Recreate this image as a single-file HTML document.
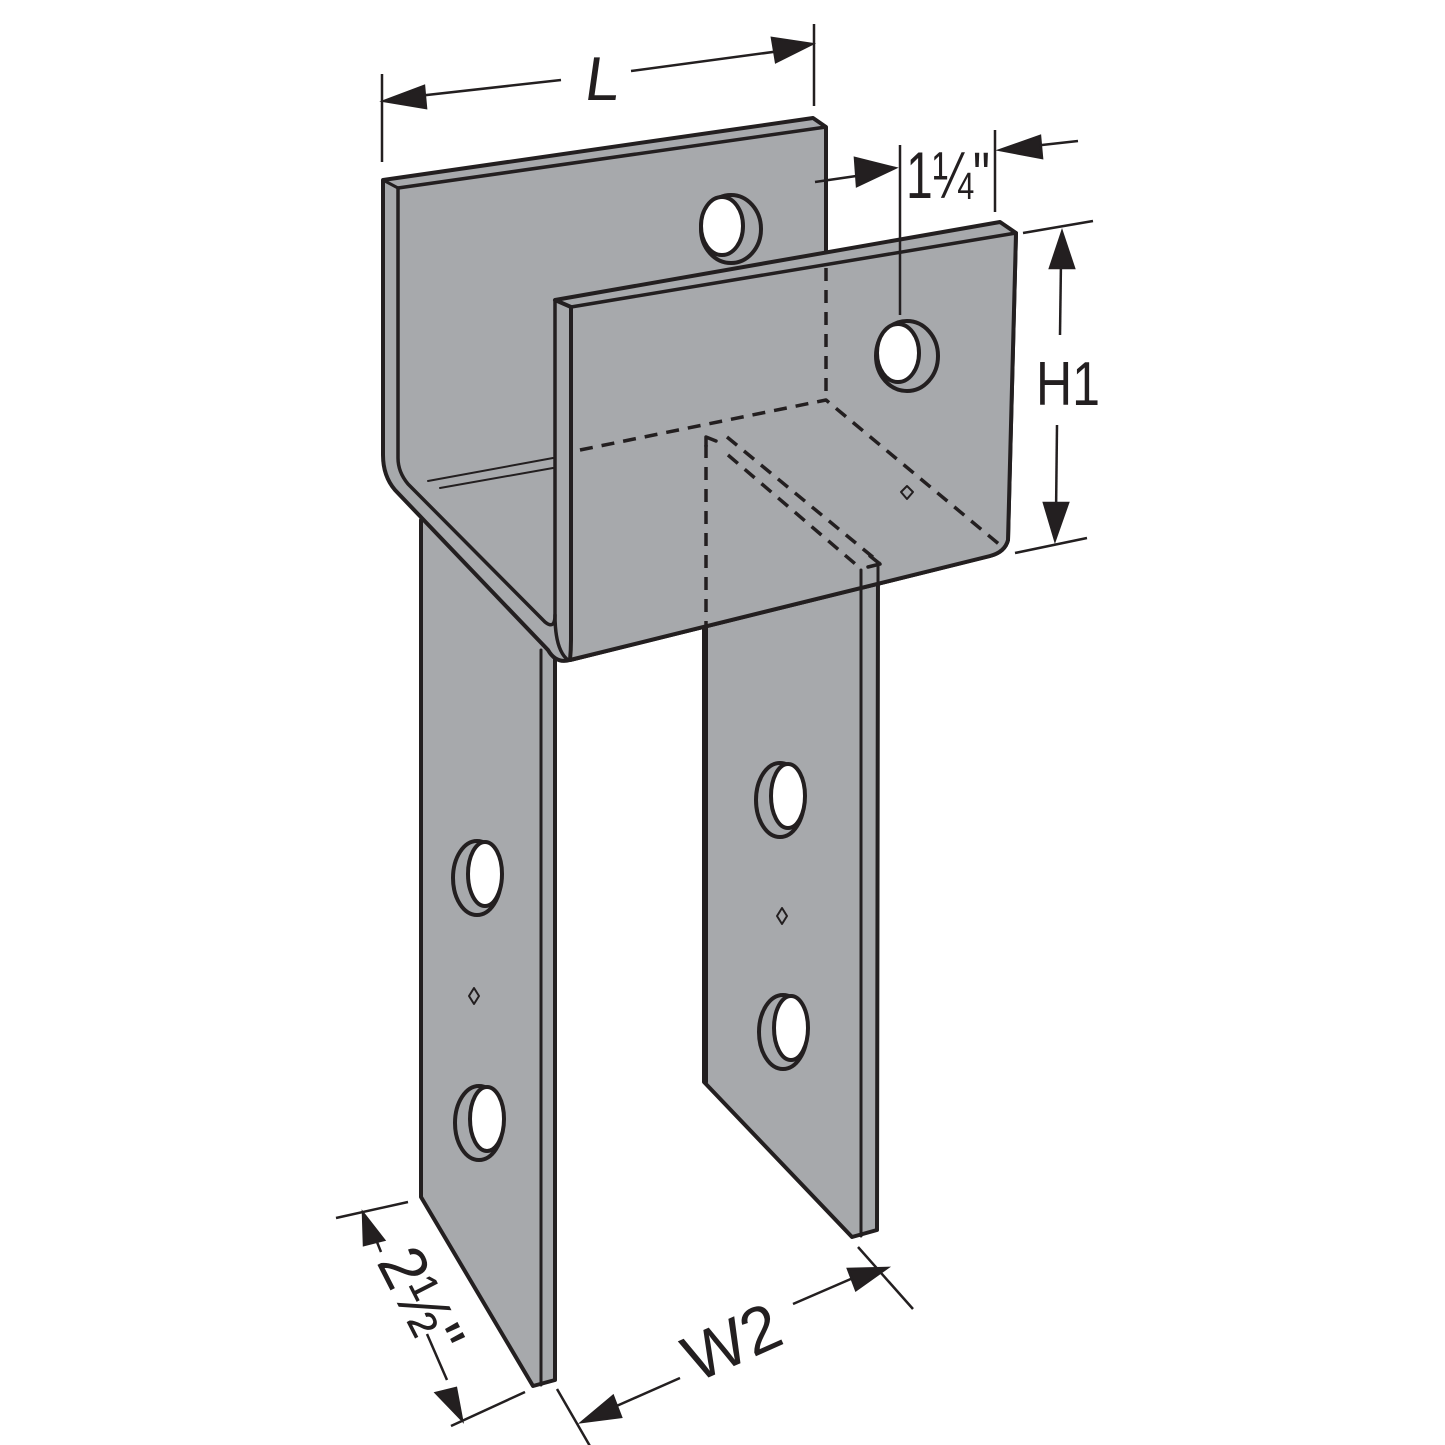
<!DOCTYPE html>
<html><head><meta charset="utf-8"><style>
html,body{margin:0;padding:0;background:#fff;}
svg{display:block}
text{font-family:"Liberation Sans",sans-serif;fill:#231f20}
</style></head><body>
<svg width="1445" height="1445" viewBox="0 0 1445 1445" xmlns="http://www.w3.org/2000/svg">
<g stroke="#231f20" stroke-linejoin="round" stroke-linecap="round" fill="#a7a9ac">
<polygon points="421,520 555,520 555,1380 533,1386 421,1197" stroke-width="4"/>
<line x1="541" y1="650" x2="541" y2="1385" stroke-width="3"/>
<polygon points="704,600 878,560 877,1230 852,1237 704,1082" stroke-width="4"/>
<line x1="861" y1="570" x2="861" y2="1236" stroke-width="3"/>
<path d="M383,180 L813,118 L826,127 L826,300 L1000,228 L1016,233 L1008,540 Q1005,552 990,556 L570,660 Q556,664 548,650 L395,490 Q383,476 383,455 Z" stroke-width="4"/>
<polyline points="398,188 826,127" fill="none" stroke-width="3.5"/>
<line x1="383" y1="180" x2="398" y2="188" stroke-width="3"/>
<path d="M398,188 L398,458 Q398,472 408,484 L545,622 Q555,630 555,615 L555,300" fill="none" stroke-width="3.5"/>
<path d="M555,300 L1000,222 L1016,233 L1008,540 Q1005,552 990,556 L570,660 Q571,650 571,640 L571,307 Z" stroke-width="4"/>
<line x1="571" y1="307" x2="1016" y2="233" stroke-width="3.5"/>
<line x1="555" y1="300" x2="571" y2="307" stroke-width="3"/>
<line x1="571" y1="307" x2="571" y2="640" stroke-width="3.5"/>
<path d="M555,615 Q555,650 568,660" fill="none" stroke-width="3.5"/>
<line x1="706" y1="628" x2="706" y2="1082" stroke-width="4"/>
<line x1="861" y1="570" x2="861" y2="590" stroke-width="3"/>
<line x1="878" y1="566" x2="878" y2="585" stroke-width="3"/>
<line x1="428" y1="481" x2="553" y2="458" stroke-width="2"/>
<line x1="440" y1="488" x2="553" y2="468" stroke-width="2"/>
<g fill="none" stroke-width="3.5" stroke-dasharray="13,9" stroke-linecap="butt">
<line x1="826" y1="268" x2="826" y2="400"/>
<polyline points="580,450 826,400 1000,545"/>
<line x1="706" y1="445" x2="706" y2="625"/>
<line x1="727" y1="437" x2="880" y2="563"/>
<line x1="728" y1="455" x2="860" y2="568"/>
</g>
<polyline points="706,446 706,437 716,441" fill="none" stroke-width="3.5"/>
<polyline points="868,567 880,564 870,556" fill="none" stroke-width="3.5"/>
<g stroke-width="4">
<ellipse cx="731" cy="229" rx="30" ry="34"/>
<ellipse cx="722" cy="226" rx="21" ry="29" fill="#fff"/>
<ellipse cx="907" cy="356" rx="31" ry="35"/>
<ellipse cx="898" cy="353" rx="21" ry="29" fill="#fff"/>
<ellipse cx="477" cy="878" rx="24" ry="37"/>
<ellipse cx="485" cy="874" rx="17" ry="32" fill="#fff"/>
<ellipse cx="479" cy="1123" rx="24" ry="37"/>
<ellipse cx="487" cy="1119" rx="17" ry="32" fill="#fff"/>
<ellipse cx="780" cy="800" rx="24" ry="37"/>
<ellipse cx="788" cy="796" rx="17" ry="32" fill="#fff"/>
<ellipse cx="783" cy="1032" rx="24" ry="37"/>
<ellipse cx="791" cy="1028" rx="17" ry="32" fill="#fff"/>
</g>
<g stroke-width="2" fill="none">
<polygon points="474,988 479,996 474,1004 469,996"/>
<polygon points="782,908 787,916 782,924 777,916"/>
<polygon points="907,486 913,492 907,499 901,492"/>
</g>
</g>
<g stroke="#231f20" stroke-width="2.5" fill="#231f20">
<line x1="382" y1="74" x2="382" y2="162"/>
<line x1="814" y1="24" x2="814" y2="106"/>
<line x1="400" y1="98" x2="561" y2="80"/>
<line x1="631" y1="71" x2="795" y2="49"/>
<polygon points="384,101 424,86 426,108"/>
<polygon points="812,44 772,38 776,62"/>
<line x1="900" y1="145" x2="900" y2="315"/>
<line x1="995" y1="130" x2="995" y2="212"/>
<line x1="815" y1="182" x2="870" y2="174"/>
<polygon points="895,168 855,158 857,186"/>
<line x1="1015" y1="148" x2="1078" y2="141"/>
<polygon points="1000,150 1040,136 1042,158"/>
<line x1="1023" y1="233" x2="1093" y2="221"/>
<line x1="1015" y1="553" x2="1087" y2="538"/>
<line x1="1061" y1="260" x2="1060" y2="335"/>
<line x1="1057" y1="425" x2="1056" y2="515"/>
<polygon points="1062,232 1050,268 1074,268"/>
<polygon points="1055,540 1044,503 1068,503"/>
<line x1="336" y1="1218" x2="408" y2="1202"/>
<line x1="451" y1="1426" x2="525" y2="1392"/>
<line x1="373" y1="1232" x2="381" y2="1252"/>
<polygon points="363,1213 384,1240 364,1245"/>
<line x1="427" y1="1334" x2="447" y2="1380"/>
<polygon points="462,1420 436,1393 456,1388"/>
<line x1="557" y1="1389" x2="598" y2="1460"/>
<line x1="858" y1="1247" x2="913" y2="1309"/>
<line x1="612" y1="1408" x2="680" y2="1378"/>
<polygon points="582,1422 613,1396 621,1417"/>
<line x1="793" y1="1304" x2="860" y2="1275"/>
<polygon points="887,1268 848,1269 856,1290"/>
</g>
<text x="585" y="100" font-size="62" transform="skewX(-8) translate(12,0)">L</text>
<text x="906" y="198" font-size="66" textLength="84" lengthAdjust="spacingAndGlyphs">1¼"</text>
<text x="1036" y="405" font-size="62" textLength="64" lengthAdjust="spacingAndGlyphs">H1</text>
<text x="0" y="0" font-size="66" textLength="110" lengthAdjust="spacingAndGlyphs" transform="translate(376,1262) rotate(63)">2½"</text>
<text x="0" y="0" font-size="66" transform="translate(696,1383) rotate(-24)">W2</text>
</svg>
</body></html>
